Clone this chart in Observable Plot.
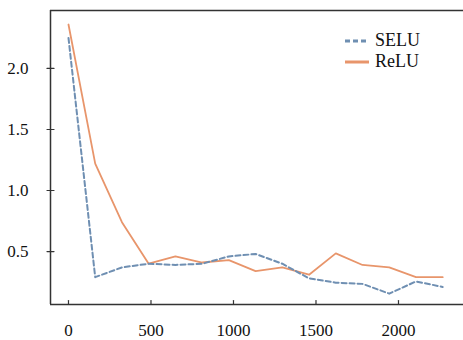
<!DOCTYPE html>
<html><head><meta charset="utf-8">
<script src="https://cdn.jsdelivr.net/npm/d3@7"></script>
<script src="https://cdn.jsdelivr.net/npm/@observablehq/plot@0.6"></script>
<style>
body{margin:0;background:#fff;}
#wrap{position:relative;width:463px;height:340px;font-family:'Liberation Serif', serif;}
#wrap svg text{font-family:'Liberation Serif', serif;}
#legend{position:absolute;left:345px;top:30px;font-size:18px;color:#111;line-height:21px;}
#legend div{display:flex;align-items:center;}
#legend svg{margin-right:6px;}
</style></head>
<body><div id="wrap"><div id="legend"></div></div>
<script>
const steps = [0,162,324,486,648,810,972,1134,1296,1458,1620,1782,1944,2106,2268];
const selu = [2.25,0.29,0.37,0.40,0.39,0.40,0.46,0.48,0.40,0.28,0.245,0.235,0.155,0.255,0.21];
const relu = [2.36,1.22,0.74,0.40,0.46,0.41,0.43,0.34,0.37,0.31,0.485,0.39,0.37,0.29,0.29];
const seriesNames = ["SELU","ReLU"];
const seriesColors = ["#6f8fb2","#e8956b"];
const seriesDash = ["5,3", null];
const xTicks = [0,500,1000,1500,2000];
const yTicks = [0.5,1.0,1.5,2.0];
const xDomain = [-109, 2394];
const yDomain = [0.066, 2.475];

const table = [];
steps.forEach((s,i)=>{table.push({step:s,loss:selu[i],series:"SELU"});table.push({step:s,loss:relu[i],series:"ReLU"});});

const axisColor = "#333";
const serif = "Liberation Serif, serif";
const tickShape = {draw(ctx, l){ctx.moveTo(0,0); ctx.lineTo(0,-l);}};

const chart = Plot.plot({
  width:463, height:340,
  marginLeft:50, marginTop:10, marginBottom:36, marginRight:0,
  style:{fontFamily:serif, fontSize:"17px", color:"#111", background:"#fff"},
  x:{domain:xDomain, label:null},
  y:{domain:yDomain, label:null},
  marks:[
    Plot.axisX(xTicks,{tickSize:0, tickPadding:19, fontSize:17, fontFamily:serif, label:null, tickFormat:d=>String(d)}),
    Plot.axisY(yTicks,{tickSize:0, tickPadding:22, fontSize:17, fontFamily:serif, label:null, tickFormat:d=>d.toFixed(1)}),
    Plot.vector(xTicks,{x:d=>d, frameAnchor:"bottom", length:4, rotate:0, anchor:"start", shape:tickShape, stroke:axisColor, strokeWidth:1.2}),
    Plot.vector(yTicks,{y:d=>d, frameAnchor:"left", length:7, rotate:90, anchor:"middle", shape:tickShape, stroke:axisColor, strokeWidth:1.2}),
    Plot.line(table.filter(d=>d.series==="ReLU"),{x:"step",y:"loss",stroke:seriesColors[1],strokeWidth:1.8}),
    Plot.line(table.filter(d=>d.series==="SELU"),{x:"step",y:"loss",stroke:seriesColors[0],strokeWidth:2,strokeDasharray:seriesDash[0]}),
    Plot.ruleX([xDomain[0]],{stroke:axisColor,strokeWidth:1.5}),
    Plot.ruleY([yDomain[0], yDomain[1]],{stroke:axisColor,strokeWidth:1.5})
  ]
});
const wrap = document.getElementById("wrap");
wrap.insertBefore(chart, wrap.firstChild);

const legend = document.getElementById("legend");
seriesNames.forEach((n,i)=>{
  const row = document.createElement("div");
  row.innerHTML = `<svg width="24" height="10"><line x1="0" y1="5" x2="24" y2="5" stroke="${seriesColors[i]}" stroke-width="3" ${seriesDash[i]?`stroke-dasharray="5,3"`:""}/></svg><span>${n}</span>`;
  legend.appendChild(row);
});

function refreshFonts(){
  chart.querySelectorAll("text").forEach(t=>{ t.setAttribute("font-family", serif); t.style.fontFamily = serif; void t.getBBox(); });
}
refreshFonts();
if (document.fonts && document.fonts.load) {
  document.fonts.load('17px "Liberation Serif"').then(refreshFonts).catch(()=>{});
  document.fonts.ready.then(refreshFonts).catch(()=>{});
}
</script></body></html>
